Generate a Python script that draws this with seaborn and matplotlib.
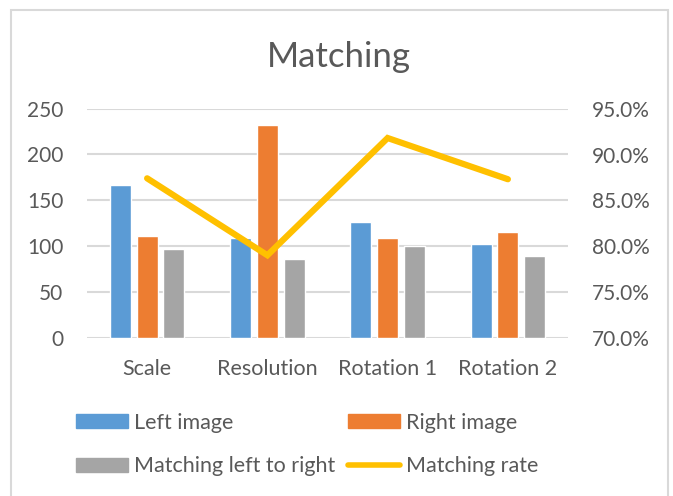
import matplotlib
matplotlib.use("Agg")
import matplotlib.pyplot as plt
import matplotlib.patches as mpatches
from matplotlib.lines import Line2D
from matplotlib.ticker import PercentFormatter
import seaborn as sns
import pandas as pd

categories = ["Scale", "Resolution", "Rotation 1", "Rotation 2"]
left_image = [167, 109, 126, 102]
right_image = [111, 232, 109, 115]
matching_left_to_right = [97, 86, 100, 89]
matching_rate = [87.4, 79.0, 91.8, 87.3]

series_names = ["Left image", "Right image", "Matching left to right"]
colors = ["#5B9BD5", "#ED7D31", "#A5A5A5"]
line_color = "#FFC000"
text_color = "#595959"
grid_color = "#D9D9D9"

sns.set_theme(style="white")
plt.rcParams["font.family"] = ["Lato", "DejaVu Sans"]

df = pd.DataFrame({
    "category": categories * 3,
    "series": [s for s in series_names for _ in categories],
    "value": left_image + right_image + matching_left_to_right,
})

fig = plt.figure(figsize=(6.73, 4.96), dpi=100)
ax = fig.add_axes([87 / 673, 1 - 337.7 / 496, 481 / 673, 229 / 496])

sns.barplot(data=df, x="category", y="value", hue="series", hue_order=series_names,
            palette=colors, width=0.667, gap=0.21, saturation=1, ax=ax, legend=False)

ax.set_ylim(0, 250)
ax.set_yticks(range(0, 251, 50))
ax.set_xlim(-0.5, 3.5)
ax.yaxis.grid(True, color=grid_color, linewidth=1.5)
ax.set_axisbelow(True)
for s in ax.spines.values():
    s.set_visible(False)
ax.set_xlabel("")
ax.set_ylabel("")
ax.tick_params(axis="both", length=0, labelsize=15, colors=text_color)
ax.tick_params(axis="x", pad=15, labelsize=15.5)
ax.tick_params(axis="y", pad=17)

ax2 = ax.twinx()
sns.lineplot(x=list(range(len(categories))), y=matching_rate, color=line_color,
             linewidth=4.5, ax=ax2, solid_capstyle="round", solid_joinstyle="miter")
ax2.set_ylim(70, 95)
ax2.set_yticks([70, 75, 80, 85, 90, 95])
ax2.yaxis.set_major_formatter(PercentFormatter(decimals=1))
ax2.tick_params(axis="y", length=0, labelsize=15, colors=text_color, pad=17)
for s in ax2.spines.values():
    s.set_visible(False)
ax2.set_ylabel("")
ax2.grid(False)

fig.text(339 / 673, 1 - 67 / 496, "Matching", ha="center", va="baseline",
         fontsize=25, color=text_color)

# Outer chart frame
fig.patches.append(mpatches.Rectangle((11 / 673, -0.1), (668 - 11) / 673, 1.1 - 10 / 496,
                                      transform=fig.transFigure, fill=False,
                                      edgecolor=grid_color, linewidth=1.5))

handles = [mpatches.Patch(color=c, label=n) for c, n in zip(colors, series_names)]
handles.append(Line2D([0], [0], color=line_color, linewidth=4, label="Matching rate"))
order = [handles[0], handles[2], handles[1], handles[3]]
fig.legend(handles=order, loc="center left", bbox_to_anchor=(76 / 673, 1 - 444.5 / 496),
           ncol=2, frameon=False, fontsize=15.5, labelcolor=text_color,
           borderpad=0, borderaxespad=0,
           handlelength=2.42, handleheight=0.65, handletextpad=0.28,
           columnspacing=0.6, labelspacing=1.1)

fig.savefig("out.png", dpi=100)
